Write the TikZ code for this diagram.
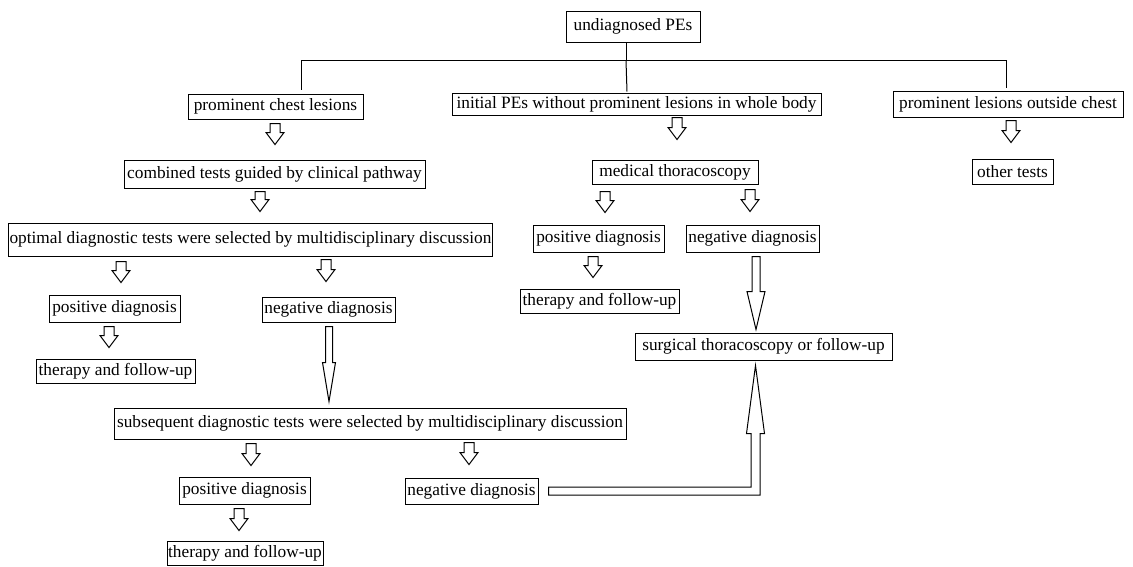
\documentclass[tikz,border=0pt]{standalone}
\usepackage{fontspec}
\setmainfont{Liberation Serif}
\usetikzlibrary{calc}
\tikzset{
  box/.style={draw, line width=1pt, inner xsep=1pt, inner ysep=0pt,
    font=\fontsize{17.3}{20}\selectfont},
  blockarrow/.style n args={3}{draw, line width=1pt, fill=white,
    to path={let \p1=(\tikztostart), \p2=(\tikztotarget) in
      (\x1-#1,\y1) -- (\x1-#1,\y2+#3) -- (\x1-#2,\y2+#3) -- (\x1,\y2)
      -- (\x1+#2,\y2+#3) -- (\x1+#1,\y2+#3) -- (\x1+#1,\y1) -- cycle}},
  smallarrow/.style={blockarrow={5pt}{9pt}{12pt}},
}

\begin{document}
\begin{tikzpicture}[x=1pt, y=-1pt]
\fill[white] (0,0) rectangle (1133,566);
\useasboundingbox (0,0) rectangle (1133,566);
% Top of the tree
\node[box, minimum width=134, minimum height=31] (undiag) at (633,26.5) {undiagnosed PEs};
\node[box, minimum width=175, minimum height=25] (chest) at (275.5,106.5) {prominent chest lesions};
\node[box, minimum width=369, minimum height=22] (initial) at (636.5,104) {initial PEs without prominent lesions in whole body};
\node[box, minimum width=230, minimum height=26] (outside) at (1008,104) {prominent lesions outside chest};
% Branch lines
\draw[line width=1pt] ([xshift=-7pt]undiag.south) -- ++(0,18) coordinate (bus);
\draw[line width=1pt] ([xshift=25.5pt,yshift=4pt]chest.north) |- (bus) -| ([xshift=-2pt,yshift=3pt]outside.north);
\draw[line width=1pt] (bus) -- ([xshift=-9.5pt,yshift=1pt]initial.north);
% Left column
\node[box, minimum width=301, minimum height=28] (combined) at (274.5,174) {combined tests guided by clinical pathway};
\node[box, minimum width=481, minimum height=33] (optimal) at (250.5,239.5) {optimal diagnostic tests were selected by multidisciplinary discussion};
\node[box, minimum width=131, minimum height=27] (posL) at (114.5,308.5) {positive diagnosis};
\node[box, minimum width=133, minimum height=25] (negL) at (328.5,309.5) {negative diagnosis};
\node[box, minimum width=159, minimum height=24] (therL) at (115.5,371) {therapy and follow-up};
\node[box, minimum width=512, minimum height=31] (subseq) at (370,423.5) {subsequent diagnostic tests were selected by multidisciplinary discussion};
\node[box, minimum width=131, minimum height=27] (posB) at (244.5,490.5) {positive diagnosis};
\node[box, minimum width=133, minimum height=26] (negB) at (471.5,491) {negative diagnosis};
\node[box, minimum width=156, minimum height=24] (therB) at (245,553) {therapy and follow-up};
% Middle column
\node[box, minimum width=166, minimum height=24] (medical) at (675,172) {medical thoracoscopy};
\node[box, minimum width=131, minimum height=27] (posM) at (598.5,238.5) {positive diagnosis};
\node[box, minimum width=133, minimum height=27] (negM) at (752.5,238.5) {negative diagnosis};
\node[box, minimum width=159, minimum height=24] (therM) at (599.5,301) {therapy and follow-up};
\node[box, minimum width=257, minimum height=27] (surgical) at (763.5,346.5) {surgical thoracoscopy or follow-up};
% Right column
\node[box, minimum width=81, minimum height=25] (other) at (1012.5,171.5) {other tests};
% Hollow arrows
\draw[smallarrow] ([xshift=-0.5pt,yshift=-4pt]chest.south) to ([yshift=15pt]combined.north);
\draw[smallarrow] ([xshift=-14.5pt,yshift=-3pt]combined.south) to ([yshift=11pt]optimal.north);
\draw[smallarrow] ([xshift=-129.5pt,yshift=-5pt]optimal.south) to ([yshift=12pt]posL.north);
\draw[smallarrow] ([xshift=75.5pt,yshift=-3pt]optimal.south) to ([yshift=15pt]negL.north);
\draw[smallarrow] ([xshift=-5.5pt,yshift=-4pt]posL.south) to ([yshift=11pt]therL.north);
\draw[blockarrow={3.5pt}{6.5pt}{39pt}] ([xshift=0.5pt,yshift=-4pt]negL.south) to ([yshift=6pt]subseq.north);
\draw[smallarrow] ([xshift=-119pt,yshift=-4pt]subseq.south) to ([yshift=11pt]posB.north);
\draw[smallarrow] ([xshift=99pt,yshift=-3pt]subseq.south) to ([yshift=13pt]negB.north);
\draw[smallarrow] ([xshift=-5.5pt,yshift=-4pt]posB.south) to ([yshift=10pt]therB.north);
\draw[smallarrow] ([xshift=40.5pt,yshift=-2pt]initial.south) to ([yshift=20pt]medical.north);
\draw[smallarrow] ([xshift=-70pt,yshift=-7pt]medical.south) to ([yshift=12pt]posM.north);
\draw[smallarrow] ([xshift=75pt,yshift=-5pt]medical.south) to ([yshift=13pt]negM.north);
\draw[smallarrow] ([xshift=-5.5pt,yshift=-4pt]posM.south) to ([yshift=11pt]therM.north);
\draw[blockarrow={4pt}{9pt}{38pt}] ([xshift=3.5pt,yshift=-4pt]negM.south) to ([yshift=3pt]surgical.north);
\draw[smallarrow] ([xshift=3pt,yshift=-3pt]outside.south) to ([yshift=16pt]other.north);
% Bent arrow back up to surgical thoracoscopy
\draw[line width=1pt, fill=white]
  let \p1=([xshift=10pt]negB.east), \p2=([xshift=-8pt,yshift=-5pt]surgical.south) in
  (\x1,\y1+4pt) -- (\x2-4.5pt,\y1+4pt) -- (\x2-4.5pt,\y2-68pt) -- (\x2-9pt,\y2-68pt)
  -- (\x2,\y2) -- (\x2+9pt,\y2-68pt) -- (\x2+4.5pt,\y2-68pt) -- (\x2+4.5pt,\y1-4pt)
  -- (\x1,\y1-4pt) -- cycle;
\end{tikzpicture}
\end{document}
